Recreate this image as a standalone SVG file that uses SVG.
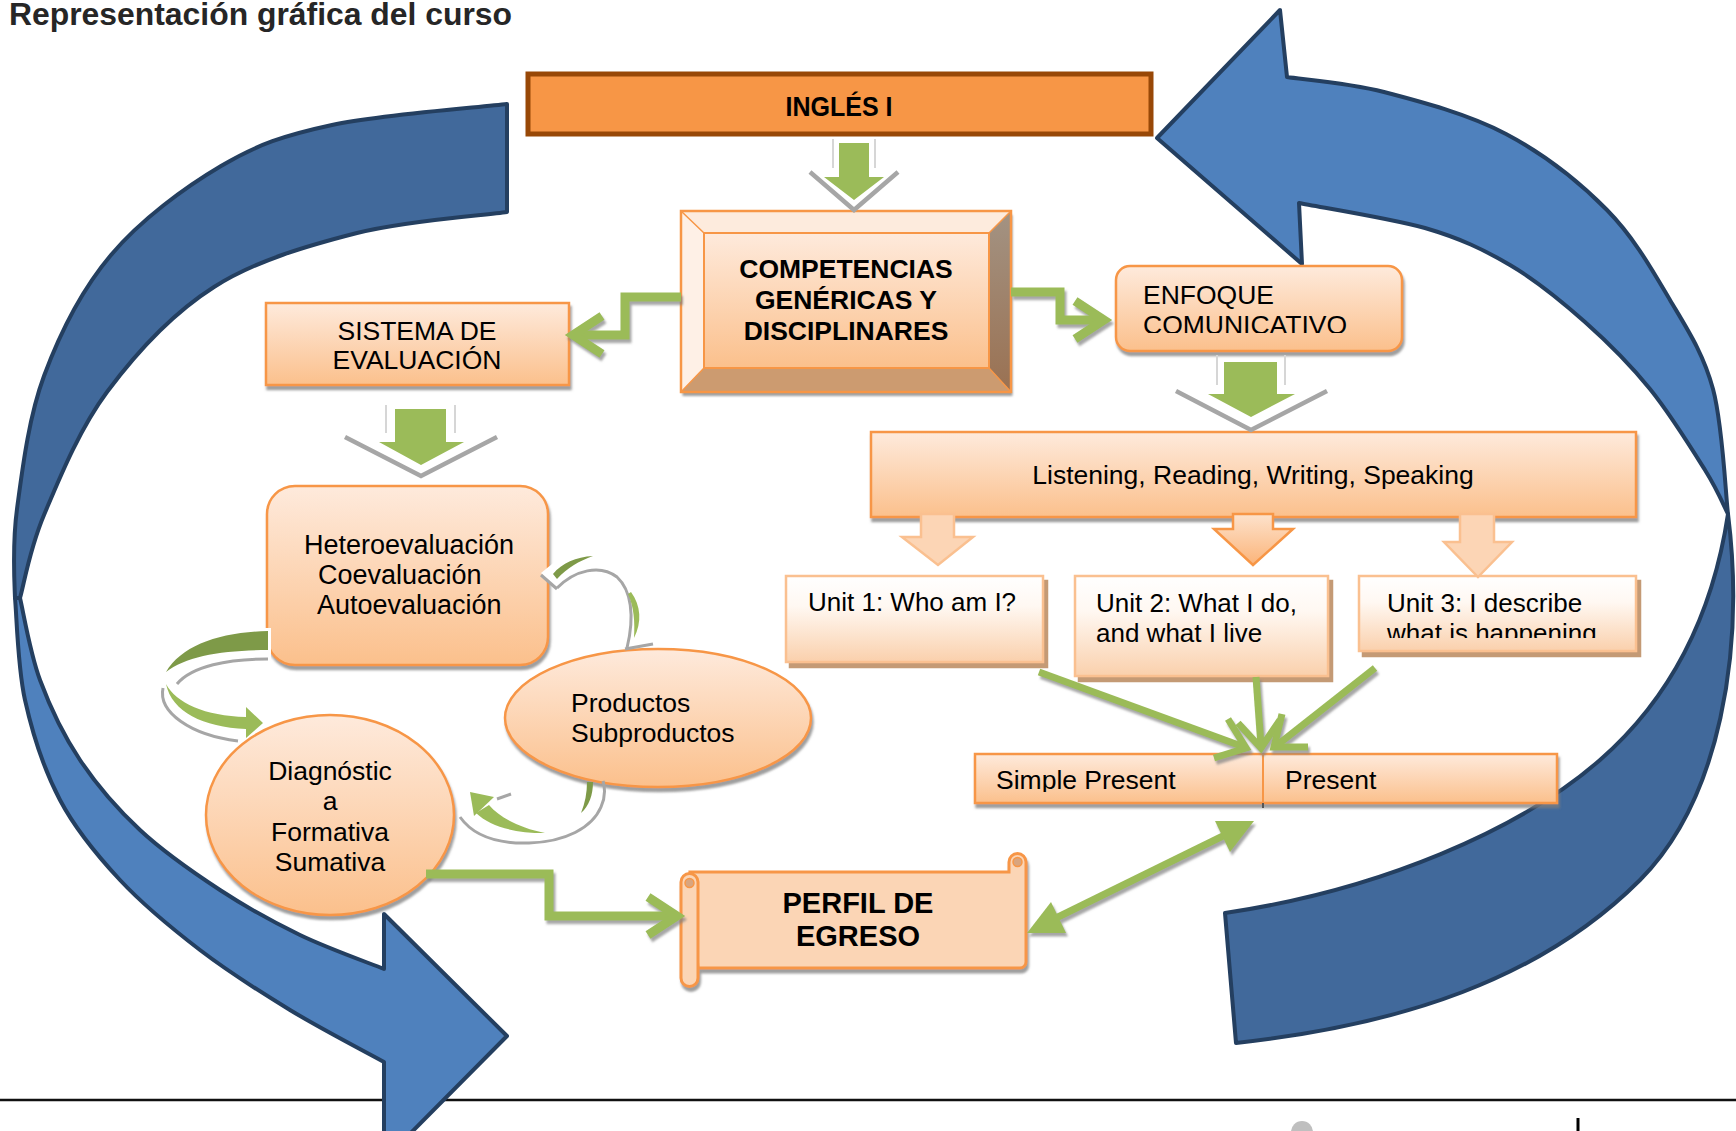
<svg xmlns="http://www.w3.org/2000/svg" width="1736" height="1131" viewBox="0 0 1736 1131">
<defs>
<style>
.t{font-family:"Liberation Sans",Arial,sans-serif;font-size:26.5px;fill:#000}
.b{font-weight:bold}
.box{fill:url(#gOr);stroke:#F79646;stroke-width:2.5}
.unit{fill:url(#gUnit);stroke:#FAC090;stroke-width:2.5}
.gl{fill:none;stroke:#9BBB59;stroke-width:9;stroke-linejoin:miter;stroke-linecap:butt}
.gt{fill:none;stroke:#9BBB59;stroke-width:7;stroke-linejoin:miter;stroke-linecap:butt}
.garr{fill:#9BBB59}
.chev{fill:none;stroke:#A6A6A6;stroke-width:4.5}
.side{fill:none;stroke:#D6D6D6;stroke-width:2}
.gray{fill:none;stroke:#A6A6A6;stroke-width:3}
.dkg{fill:#7E9A48}
.blue{stroke:#243F60;stroke-width:4;stroke-linejoin:round}
.pale{fill:#FCD5B5;stroke:#FAC090;stroke-width:2.5}
</style>
<linearGradient id="gOr" x1="0" y1="0" x2="0" y2="1"><stop offset="0" stop-color="#FEEADC"/><stop offset="1" stop-color="#FBC08C"/></linearGradient>
<linearGradient id="gUnit" x1="0" y1="0" x2="0" y2="1"><stop offset="0" stop-color="#FFFFFF"/><stop offset="0.35" stop-color="#FFF8F2"/><stop offset="1" stop-color="#FAD0AC"/></linearGradient>
<linearGradient id="gBev" x1="0" y1="0" x2="0" y2="1"><stop offset="0" stop-color="#A39383"/><stop offset="1" stop-color="#9A7152"/></linearGradient>
<linearGradient id="gArr" x1="0" y1="0" x2="0" y2="1"><stop offset="0" stop-color="#FDE2CC"/><stop offset="1" stop-color="#FBB479"/></linearGradient>
<filter id="sh" x="-10%" y="-10%" width="125%" height="130%"><feDropShadow dx="1.5" dy="4" stdDeviation="1.2" flood-color="#7F7F7F" flood-opacity="0.75"/></filter>
<filter id="shT" x="-10%" y="-10%" width="125%" height="130%"><feDropShadow dx="4" dy="5" stdDeviation="0.4" flood-color="#C49A74" flood-opacity="1"/></filter>
<filter id="shG" x="-10%" y="-10%" width="125%" height="130%"><feDropShadow dx="2" dy="3.5" stdDeviation="0.8" flood-color="#808080" flood-opacity="0.7"/></filter>
<clipPath id="cEnf"><rect x="1116" y="266" width="286" height="67"/></clipPath>
<clipPath id="cU3"><rect x="1359" y="576" width="277" height="62"/></clipPath>
<clipPath id="cSP"><rect x="975" y="754" width="582" height="38"/></clipPath>
</defs>
<rect width="1736" height="1131" fill="#FFFFFF"/>
<text class="t b" x="9" y="25" style="font-size:31px;fill:#262626" textLength="503" lengthAdjust="spacingAndGlyphs">Representación gráfica del curso</text>

<g id="page-footer">
<line x1="0" y1="1100" x2="1736" y2="1100" stroke="#111" stroke-width="2.5"/>
<circle cx="1302" cy="1132" r="11" fill="#BFBFBF"/>
<line x1="1578" y1="1118" x2="1578" y2="1131" stroke="#000" stroke-width="3"/>
</g>

<g id="cycle-arrows">
<path class="blue" fill="#41699B" d="M507,104 C477.8,107.5 379.7,114.7 332,125 C284.3,135.3 257.8,144.3 221,166 C184.2,187.7 140.5,220 111,255 C81.5,290 59.7,333.7 44,376 C28.3,418.3 22,472 17,509 C12,546 14.5,583 15,598 L20,598 C24,584.2 29.5,549.3 44,515 C58.5,480.7 78.7,430 107,392 C135.3,354 172.3,313.5 214,287 C255.7,260.5 308.2,245.5 357,233 C405.8,220.5 482,215.5 507,212 Z"/>
<path class="blue" fill="#4F81BD" d="M15,598 C16.7,615 17.5,666.3 25,700 C32.5,733.7 44.2,770 60,800 C75.8,830 96.7,855 120,880 C143.3,905 171.7,928.3 200,950 C228.3,971.7 259.3,991.3 290,1010 C320.7,1028.7 368.3,1053.3 384,1062 L384,1160 L507,1036 L384,914 L384,969 C370,963.3 327.3,948.2 300,935 C272.7,921.8 246.7,907.5 220,890 C193.3,872.5 163.3,851.7 140,830 C116.7,808.3 96.7,785 80,760 C63.3,735 50,707 40,680 C30,653 23.3,611.7 20,598 Z"/>
<path class="blue" fill="#4F81BD" d="M1287,77 C1303.2,79.5 1347.5,82.5 1384,92 C1420.5,101.5 1468.8,114.3 1506,134 C1543.2,153.7 1579.7,182.3 1607,210 C1634.3,237.7 1652.3,270.2 1670,300 C1687.7,329.8 1703.3,353.3 1713,389 C1722.7,424.7 1725.5,493.2 1728,514 C1724.2,506.7 1718,490.8 1705,470 C1692,449.2 1670,413.7 1650,389 C1630,364.3 1608.3,342.7 1585,322 C1561.7,301.3 1536.7,280.7 1510,265 C1483.3,249.3 1460.2,238.3 1425,228 C1389.8,218.3 1320,207.2 1299,203 L1302,264 L1157,138 L1280,10 Z"/>
<path class="blue" fill="#41699B" d="M1728,514 C1745,650 1720,800 1640,880 C1540,980 1400,1025 1236,1043 L1225,913 C1380,890 1520,830 1600,760 C1680,690 1715,600 1728,514 Z"/>
</g>

<g id="ingles">
<rect x="528" y="74" width="623" height="60" fill="#F79646" stroke="#984807" stroke-width="5"/>
<text class="t b" x="839" y="116" text-anchor="middle" style="font-size:28px" textLength="107" lengthAdjust="spacingAndGlyphs">INGLÉS I</text>
</g>

<g id="competencias">
<rect x="681" y="211" width="330" height="181" fill="#FDEBDD" filter="url(#sh)"/>
<polygon points="681,211 1011,211 989,233 704,233" fill="#FDEBDD"/>
<polygon points="681,211 704,233 704,368 681,392" fill="#FEF0E6"/>
<polygon points="1011,211 1011,392 989,368 989,233" fill="url(#gBev)"/>
<polygon points="681,392 704,368 989,368 1011,392" fill="#CC9B70"/>
<rect x="704" y="233" width="285" height="135" fill="url(#gOr)" stroke="#F79646" stroke-width="2"/>
<path d="M681,211 L704,233 M1011,211 L989,233 M681,392 L704,368 M1011,392 L989,368" stroke="#F79646" stroke-width="1.5"/>
<rect x="681" y="211" width="330" height="181" fill="none" stroke="#F79646" stroke-width="2.5"/>
<text class="t b" text-anchor="middle" x="846"><tspan x="846" y="278">COMPETENCIAS</tspan><tspan x="846" y="309">GENÉRICAS Y</tspan><tspan x="846" y="340">DISCIPLINARES</tspan></text>
</g>

<g id="sistema">
<rect class="box" x="266" y="303" width="303" height="82" filter="url(#sh)"/>
<text class="t" text-anchor="middle"><tspan x="417" y="340">SISTEMA DE</tspan><tspan x="417" y="369">EVALUACIÓN</tspan></text>
</g>

<g id="enfoque">
<rect class="box" x="1116" y="266" width="286" height="85" rx="14" filter="url(#sh)"/>
<text class="t" clip-path="url(#cEnf)"><tspan x="1143" y="304">ENFOQUE</tspan><tspan x="1143" y="334">COMUNICATIVO</tspan></text>
</g>

<g id="skills">
<rect class="box" x="871" y="432" width="765" height="85" filter="url(#sh)"/>
<text class="t" x="1253" y="484" text-anchor="middle">Listening, Reading, Writing, Speaking</text>
</g>

<g id="unit1">
<rect class="unit" x="786" y="576" width="257" height="86" filter="url(#shT)"/>
<text class="t" x="808" y="611" style="font-size:26px">Unit 1: Who am I?</text>
</g>
<g id="unit2">
<rect class="unit" x="1075" y="576" width="253" height="100" filter="url(#shT)"/>
<text class="t" style="font-size:26px"><tspan x="1096" y="612">Unit 2: What I do,</tspan><tspan x="1096" y="642">and what I live</tspan></text>
</g>
<g id="unit3">
<rect class="unit" x="1359" y="576" width="277" height="75" filter="url(#shT)"/>
<text class="t" style="font-size:26px" clip-path="url(#cU3)"><tspan x="1387" y="612">Unit 3: I describe</tspan><tspan x="1387" y="642">what is happening</tspan></text>
</g>

<g id="tenses">
<rect class="box" x="975" y="754" width="582" height="49" filter="url(#sh)"/>
<line x1="1263" y1="754" x2="1263" y2="808" stroke="#555" stroke-width="2"/>
<line x1="1263" y1="754" x2="1263" y2="803" stroke="#F79646" stroke-width="2"/>
<g clip-path="url(#cSP)">
<text class="t" x="996" y="789">Simple Present</text>
<text class="t" x="1285" y="789">Present</text>
</g>
</g>

<g id="hetero">
<rect class="box" x="267" y="486" width="281" height="179" rx="28" filter="url(#sh)"/>
<text class="t" style="font-size:27px"><tspan x="304" y="554">Heteroevaluación</tspan><tspan x="318" y="584">Coevaluación</tspan><tspan x="317" y="614">Autoevaluación</tspan></text>
</g>

<g id="productos">
<ellipse class="box" cx="658" cy="718" rx="153" ry="69" filter="url(#sh)"/>
<text class="t"><tspan x="571" y="712">Productos</tspan><tspan x="571" y="742">Subproductos</tspan></text>
</g>

<g id="diagnostico">
<ellipse class="box" cx="330" cy="815" rx="124" ry="100" filter="url(#sh)"/>
<text class="t" text-anchor="middle"><tspan x="330" y="780">Diagnóstic</tspan><tspan x="330" y="810">a</tspan><tspan x="330" y="841">Formativa</tspan><tspan x="330" y="871">Sumativa</tspan></text>
</g>

<g id="perfil">
<g filter="url(#sh)">
<path d="M690,872 L1009,872 L1009,862 A8.5,8.5 0 0 1 1026,862 L1026,962 A6,6 0 0 1 1020,968 L698,968 Z" fill="#FBD5B5" stroke="#F79646" stroke-width="3"/>
<path d="M698,882 L698,978 A8.5,8.5 0 0 1 681,978 L681,882 A8.5,8.5 0 0 1 698,882 Z" fill="#FBD5B5" stroke="#F79646" stroke-width="3"/>
</g>
<circle cx="1017.5" cy="862" r="4.5" fill="#D9A57E" stroke="#F79646" stroke-width="1.5"/>
<circle cx="689.5" cy="883" r="4.5" fill="#D9A57E" stroke="#F79646" stroke-width="1.5"/>
<text class="t b" text-anchor="middle" style="font-size:29px"><tspan x="858" y="913">PERFIL DE</tspan><tspan x="858" y="946">EGRESO</tspan></text>
</g>

<g id="connectors">
<g id="block-arrows">
<path class="side" d="M833,139 V168 M875,139 V168"/>
<path class="chev" d="M810,172 L854,210 L898,172"/>
<polygon class="garr" points="839,143 869,143 869,177 884,177 854,200 824,177 839,177"/>
<path class="side" d="M386,405 V433 M455,405 V433"/>
<path class="chev" d="M345,437 L421,476 L497,437"/>
<polygon class="garr" points="395,409 446,409 446,442 464,442 421,465 379,442 395,442"/>
<path class="side" d="M1217,355 V385 M1285,355 V385"/>
<path class="chev" d="M1176,391 L1251,430 L1327,391"/>
<polygon class="garr" points="1224,362 1277,362 1277,394 1295,394 1251,417 1208,394 1224,394"/>
<polygon class="pale" points="921,514 954,514 954,537 973,537 938,565 902,537 921,537"/>
<polygon points="1233,514 1273,514 1273,529 1293,529 1253,565 1214,529 1233,529" fill="url(#gArr)" stroke="#F79646" stroke-width="2.5"/>
<polygon class="pale" points="1460,514 1494,514 1494,542 1512,542 1478,577 1444,542 1460,542"/>
</g>
<g id="elbow-arrows" filter="url(#shG)">
<path class="gl" d="M681,297 H625 V335 H574"/>
<path class="gl" d="M602,316 L573,335 L602,354"/>
<path class="gl" d="M1011,292 H1060 V320 H1103"/>
<path class="gl" d="M1075,301 L1104,320 L1075,339"/>
<path class="gl" d="M426,874 H549 V916 H676"/>
<path class="gl" d="M648,897 L677,916 L648,935"/>
</g>
<g id="unit-arrows" filter="url(#shG)">
<path class="gt" d="M1039,672 L1244,747"/>
<path class="gt" d="M1228,719 L1246,748 L1214,758"/>
<path class="gt" d="M1256,677 L1261,746"/>
<path class="gt" d="M1280,720 L1261,748 L1238,723"/>
<path class="gt" d="M1375,668 L1276,746"/>
<path class="gt" d="M1308,747 L1274,747 L1282,714"/>
</g>
<g id="double-arrow" filter="url(#shG)">
<path class="gt" d="M1056,918 L1225,835"/>
<polygon class="garr" points="1254,821 1230,852 1215,821"/>
<polygon class="garr" points="1027,933 1066,933 1051,902"/>
</g>
<g id="cycle-small">
<rect x="262" y="628" width="9" height="32" fill="#FFFFFF"/>
<path class="gray" d="M268,659 C228,659 192,666 177,684"/>
<path class="gray" d="M163,688 C158,712 190,735 238,741"/>
<path class="dkg" d="M268,631 C220,632 182,645 166,672 C186,656 224,650 268,650 Z"/>
<path class="garr" d="M166,684 C176,703 205,716 246,717 L246,707 L263,723 L246,738 L246,729 C203,727 172,712 166,684 Z"/>
<polygon points="541,573 557,560 557,588" fill="#FFFFFF"/>
<path class="gray" d="M541,575 L557,589"/>
<path class="dkg" d="M553,574 C562,563 576,557 593,556 C579,561 567,568 557,579 Z"/>
<path class="gray" d="M557,588 C575,570 600,564 617,577 C631,590 635,615 627,648"/>
<path class="garr" d="M631,592 C641,606 642,622 634,638 C635,622 634,607 628,594 Z"/>
<path class="gray" d="M625,649 L653,644"/>
<path class="gray" d="M460,817 C472,834 495,844 529,843 C565,842 592,828 601,807 C606,796 605,788 603,781"/>
<path class="gray" d="M497,799 L511,794"/>
<path class="garr" d="M476,813 C490,826 512,833 545,833 C520,828 500,818 489,805 Z"/>
<polygon class="garr" points="470,792 494,797 474,816"/>
<path class="dkg" d="M593,782 C593,795 589,806 581,813 C585,803 587,793 587,782 Z"/>
</g>
</g>
</svg>
